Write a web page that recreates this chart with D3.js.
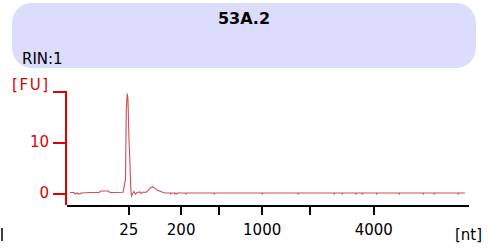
<!DOCTYPE html>
<meta charset="utf-8">
<style>
body {
  margin: 0;
  background-color: #fff;
}
svg text {
  font-family: "DejaVu Sans", sans-serif;
}
.header {
  fill: #dcdcfd;
}
.title {
  font-size: 16px;
  font-weight: bold;
}
.rin {
  font-size: 15px;
}
.axis--y path,
.axis--y line {
  stroke: #e00000;
  stroke-width: 2px;
  shape-rendering: crispEdges;
}
.axis--y text {
  fill: #e00000;
  font-size: 15px;
}
.axis--x path,
.axis--x line {
  stroke: #000;
  stroke-width: 2px;
  shape-rendering: crispEdges;
}
.axis--x text {
  fill: #000;
  font-size: 15px;
}
.trace {
  fill: none;
  stroke: #cf4f4f;
  stroke-width: 1.1px;
}
</style>
<body>
<svg width="490" height="248"></svg>
</body>

<script src="https://d3js.org/d3.v7.min.js"></script>

<script>

var sampleName = "53A.2";
var rinLabel = "RIN:1";

// ladder: size in nt and migration time in s
var ladderNt = [25, 200, 500, 1000, 2000, 4000];
var ladderSec = [23.04, 28.12, 31.77, 35.98, 40.67, 46.81];
var ladderShown = ["25", "200", "", "1000", "", "4000"];

var fuTicks = [0, 10, 20];
var fuTickLabels = ["0", "10", ""];

// electropherogram trace: time (s), fluorescence (FU)
var traceSec = [17.39, 17.78, 17.87, 17.97, 18.07, 18.16, 18.26, 18.36, 18.45, 18.55, 19.33, 20.20, 20.39,
  21.07, 21.27, 21.85, 22.53, 22.67, 22.77, 22.85, 22.94, 23.01, 23.11, 23.21, 23.28, 23.35, 23.45,
  23.60, 23.74, 23.89, 24.18, 24.27, 24.47, 24.76, 25.05, 25.24, 25.44, 25.63, 25.92, 26.21, 26.41,
  26.70, 27.11, 27.16, 27.21, 27.52, 27.57, 27.65, 27.74, 27.79, 28.59, 28.64, 28.69,
  31.33, 31.38, 31.43, 35.99, 36.04, 36.09, 39.48, 39.53, 39.58, 42.97, 43.02, 43.07,
  43.75, 43.80, 43.85, 45.08, 45.13, 45.18, 45.69, 45.74, 45.79, 47.09, 47.14, 47.19,
  49.28, 49.33, 49.38, 51.61, 51.66, 51.71, 52.67, 52.72, 52.77, 55.00, 55.05, 55.10, 55.70];
var traceFu = [0.1, 0.1, -0.2, -0.1, 0.0, -0.2, -0.1, -0.2, 0.0, 0.0, 0.1, 0.1, 0.4,
  0.4, 0.1, 0.1, 0.15, 1.6, 2.6, 16.4, 19.5, 18.4, 10.5, 5.5, 1.0, -0.6, -0.2,
  0.3, -0.2, 0.1, 0.2, -0.1, 0.2, 0.1, 0.7, 1.1, 1.2, 0.9, 0.5, 0.3, 0.1,
  0.0, 0.0, -0.2, 0.0, 0.0, -0.2, 0.0, -0.2, 0.0, 0.0, -0.2, 0.0,
  0.0, -0.2, 0.0, 0.0, -0.2, 0.0, 0.0, -0.2, 0.0, 0.0, -0.2, 0.0,
  0.0, -0.2, 0.0, 0.0, -0.2, 0.0, 0.0, -0.2, 0.0, 0.0, -0.2, 0.0,
  0.0, -0.2, 0.0, 0.0, -0.2, 0.0, 0.0, -0.2, 0.0, 0.0, -0.2, 0.0, 0.0];

var svg = d3.select("svg");

var plot = {left: 66, right: 468, top: 91, bottom: 205};

var x = d3.scaleLinear().domain([17, 56]).range([plot.left, plot.right]);
var y = d3.scaleLinear().domain([0, 20]).range([193, 91]);

// header box
svg.append("rect")
  .attr("class", "header")
  .attr("x", 12)
  .attr("y", 3)
  .attr("width", 464)
  .attr("height", 65)
  .attr("rx", 20)
  .attr("ry", 20);

svg.append("text")
  .attr("class", "title")
  .attr("x", 244)
  .attr("y", 24)
  .attr("text-anchor", "middle")
  .text(sampleName);

svg.append("text")
  .attr("class", "rin")
  .attr("x", 22)
  .attr("y", 64)
  .text(rinLabel);

// y axis (red)
var yAxis = d3.axisLeft(y)
  .tickValues(fuTicks)
  .tickSize(13)
  .tickSizeOuter(0)
  .tickPadding(4)
  .tickFormat(function(d, i) { return fuTickLabels[i]; });

var gY = svg.append("g")
  .attr("class", "axis axis--y")
  .attr("transform", "translate(" + plot.left + ",0)")
  .call(yAxis);

gY.select(".domain").attr("d", "M0," + plot.top + "V" + plot.bottom);

svg.append("text")
  .attr("x", 12)
  .attr("y", 90)
  .attr("fill", "#e00000")
  .style("font-size", "15px")
  .style("letter-spacing", "1.6px")
  .text("[FU]");

// x axis (black)
var xAxis = d3.axisBottom(x)
  .tickValues(ladderSec)
  .tickSize(10)
  .tickSizeOuter(0)
  .tickPadding(9)
  .tickFormat(function(d, i) { return ladderShown[i]; });

var gX = svg.append("g")
  .attr("class", "axis axis--x")
  .attr("transform", "translate(0," + plot.bottom + ")")
  .call(xAxis);

svg.append("text")
  .attr("x", 482)
  .attr("y", 240)
  .attr("text-anchor", "end")
  .style("font-size", "15px")
  .text("[nt]");

// cut-off label remnant at far left
svg.append("line")
  .attr("x1", 2).attr("x2", 2)
  .attr("y1", 228).attr("y2", 241)
  .attr("stroke", "#000")
  .attr("stroke-width", 1.5);

// trace
var line = d3.line()
  .x(function(d, i) { return x(traceSec[i]); })
  .y(function(d) { return y(d); });

svg.append("path")
  .datum(traceFu)
  .attr("class", "trace")
  .attr("d", line);

</script>
